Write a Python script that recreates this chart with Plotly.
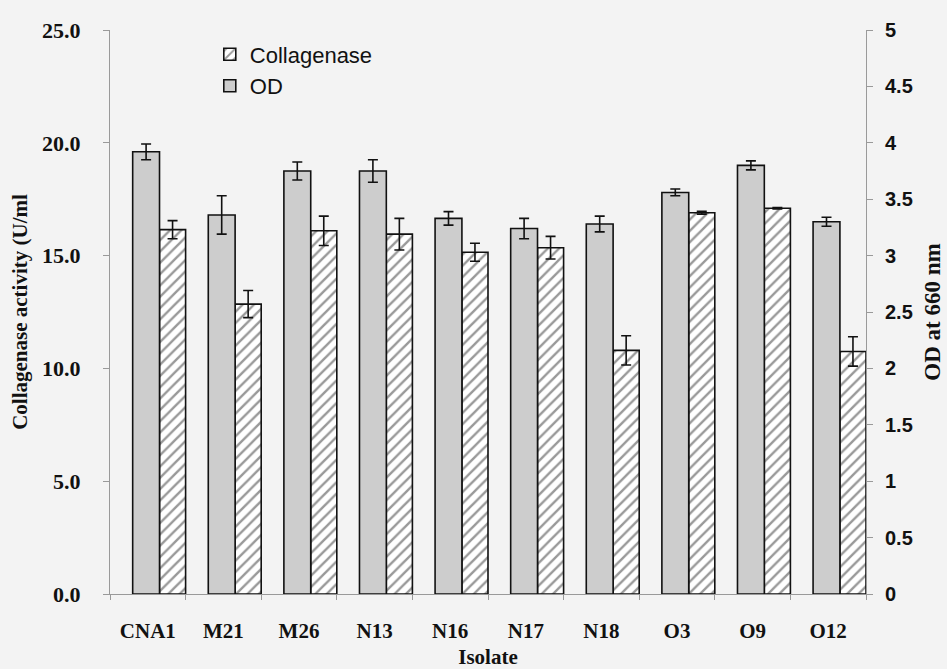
import plotly.graph_objects as go

isolates = ["CNA1", "M21", "M26", "N13", "N16", "N17", "N18", "O3", "O9", "O12"]
od_values = [3.92, 3.36, 3.75, 3.75, 3.33, 3.24, 3.28, 3.56, 3.80, 3.30]
od_errors = [0.07, 0.17, 0.08, 0.10, 0.06, 0.09, 0.07, 0.03, 0.04, 0.04]
collagenase_values = [16.15, 12.85, 16.10, 15.95, 15.15, 15.35, 10.80, 16.90, 17.10, 10.75]
collagenase_errors = [0.40, 0.60, 0.65, 0.70, 0.40, 0.50, 0.65, 0.06, 0.03, 0.65]
left_ticks = [0, 5, 10, 15, 20, 25]
left_tick_text = ["0.0", "5.0", "10.0", "15.0", "20.0", "25.0"]
right_ticks = [0, 0.5, 1, 1.5, 2, 2.5, 3, 3.5, 4, 4.5, 5]
right_tick_text = ["0", "0.5", "1", "1.5", "2", "2.5", "3", "3.5", "4", "4.5", "5"]

xpos = list(range(len(isolates)))
SERIF = "Liberation Serif"
SANS = "Liberation Sans"
BG = "#f3f3f3"

fig = go.Figure()
fig.add_trace(go.Bar(
    x=xpos, y=od_values, name="OD", yaxis="y2",
    offset=-0.20, width=0.355,
    marker=dict(color="#cdcdcd", line=dict(color="#111", width=1.6)),
    error_y=dict(type="data", array=od_errors, color="#111", thickness=1.6, width=5),
    legendrank=2,
))
fig.add_trace(go.Bar(
    x=xpos, y=collagenase_values, name="Collagenase", yaxis="y",
    offset=0.155, width=0.345,
    marker=dict(color="white", line=dict(color="#111", width=1.6),
                pattern=dict(shape="/", fgcolor="#333", bgcolor="white", size=8, solidity=0.3)),
    error_y=dict(type="data", array=collagenase_errors, color="#111", thickness=1.6, width=5),
    legendrank=1,
))

fig.update_layout(
    width=947, height=669,
    margin=dict(l=110, r=81, t=30, b=75),
    paper_bgcolor=BG, plot_bgcolor=BG,
    barmode="overlay",
    showlegend=True,
    legend=dict(x=0.132, y=0.994, xanchor="left", yanchor="top",
                bgcolor="rgba(0,0,0,0)", font=dict(family=SANS, size=22, color="#111"),
                tracegroupgap=0, itemwidth=30),
    xaxis=dict(
        range=[-0.5, 9.5], tickvals=xpos, ticktext=isolates, automargin=False,
        showgrid=False, zeroline=False, showline=True, linecolor="#999", linewidth=1,
        ticks="", ticklabelstandoff=18,
        minor=dict(tickvals=[i + 0.5 for i in range(-1, 10)], ticks="outside", ticklen=5, tickcolor="#999"),
        tickfont=dict(family=SERIF, size=21, color="#111", weight="bold"),
        title=dict(text="<b>Isolate</b>", font=dict(family=SERIF, size=21, color="#111"), standoff=10),
    ),
    yaxis=dict(
        range=[0, 25], tickvals=left_ticks, ticktext=left_tick_text, automargin=False,
        showgrid=False, zeroline=False, showline=True, linecolor="#999", linewidth=1,
        ticks="outside", ticklen=6, tickcolor="#999", ticklabelstandoff=18,
        tickfont=dict(family=SERIF, size=22, color="#111", weight="bold"),
        title=dict(text="<b>Collagenase activity (U/ml</b>", font=dict(family=SERIF, size=21, color="#111"), standoff=8),
    ),
    yaxis2=dict(
        range=[0, 5], tickvals=right_ticks, ticktext=right_tick_text, automargin=False,
        overlaying="y", side="right", anchor="x",
        showgrid=False, zeroline=False, showline=True, linecolor="#999", linewidth=1,
        ticks="outside", ticklen=6, tickcolor="#999", ticklabelstandoff=8,
        tickfont=dict(family=SANS, size=20, color="#111", weight="bold"),
        title=dict(text="<b>OD at 660 nm</b>", font=dict(family=SERIF, size=23, color="#111"), standoff=12),
    ),
)

fig.write_html("out.html")
